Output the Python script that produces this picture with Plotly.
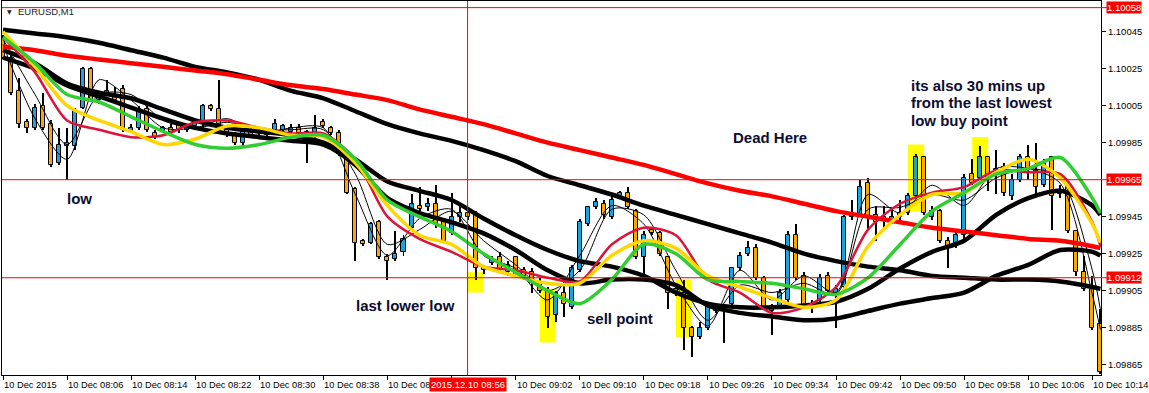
import plotly.graph_objects as go

# ---------------- data ----------------
# M1 bars, index 0 = 07:58, one bar per minute
bar_t = list(range(138))
open_ = [1.10041,1.10031,1.10013,1.09996,1.09993,1.10005,1.09995,1.09974,1.09983,1.09983,
         1.10004,1.10025,1.10008,1.10011,1.10010,1.10014,1.09991,1.09993,1.10003,1.09990,
         1.09991,1.09993,1.09995,1.09992,1.09994,1.09995,1.10005,1.10003,1.09992,1.09989,
         1.09985,1.09991,1.09990,1.09991,1.09992,1.09992,1.09991,1.09993,1.09991,1.09988,
         1.09996,1.09993,1.09990,1.09980,1.09960,1.09932,1.09931,1.09942,1.09923,1.09922,
         1.09926,1.09939,1.09951,1.09950,1.09952,1.09943,1.09936,1.09945,1.09947,1.09946,
         1.09918,1.09920,1.09923,1.09915,1.09923,1.09916,1.09915,1.09909,1.09905,1.09892,
         1.09904,1.09896,1.09916,1.09941,1.09950,1.09952,1.09945,1.09956,1.09958,1.09948,
         1.09923,1.09938,1.09936,1.09923,1.09904,1.09904,1.09885,1.09880,1.09885,1.09896,
         1.09894,1.09898,1.09917,1.09925,1.09928,1.09912,1.09894,1.09896,1.09900,1.09935,
         1.09913,1.09896,1.09900,1.09913,1.09904,1.09907,1.09945,1.09946,1.09963,1.09946,
         1.09945,1.09942,1.09947,1.09947,1.09956,1.09977,1.09945,1.09948,1.09932,1.09929,
         1.09935,1.09968,1.09966,1.09977,1.09969,1.09972,1.09956,1.09965,1.09977,1.09970,
         1.09962,1.09977,1.09957,1.09961,1.09937,1.09915,1.09906,1.09887]
high_ = [1.10043,1.10033,1.10020,1.09998,1.10006,1.10012,1.09997,1.09993,1.09993,1.10004,
         1.10026,1.10026,1.10011,1.10019,1.10015,1.10016,1.09995,1.10005,1.10005,1.09992,
         1.09994,1.09995,1.09996,1.09995,1.09997,1.10006,1.10006,1.10019,1.09993,1.09991,
         1.09993,1.09993,1.09993,1.09992,1.09998,1.09995,1.09995,1.09995,1.09992,1.10000,
         1.09998,1.09994,1.09992,1.09981,1.09961,1.09933,1.09942,1.09943,1.09925,1.09937,
         1.09935,1.09957,1.09961,1.09955,1.09962,1.09944,1.09958,1.09951,1.09950,1.09948,
         1.09919,1.09924,1.09926,1.09921,1.09924,1.09918,1.09917,1.09912,1.09907,1.09905,
         1.09908,1.09919,1.09944,1.09951,1.09955,1.09954,1.09957,1.09959,1.09961,1.09949,
         1.09937,1.09939,1.09937,1.09924,1.09908,1.09911,1.09886,1.09888,1.09897,1.09897,
         1.09897,1.09918,1.09926,1.09932,1.09930,1.09913,1.09898,1.09906,1.09937,1.09941,
         1.09915,1.09900,1.09914,1.09915,1.09908,1.09946,1.09954,1.09965,1.09966,1.09951,
         1.09951,1.09949,1.09954,1.09958,1.09979,1.09978,1.09951,1.09949,1.09934,1.09937,
         1.09968,1.09976,1.09983,1.09978,1.09981,1.09974,1.09968,1.09979,1.09984,1.09985,
         1.09976,1.09978,1.09962,1.09962,1.09938,1.09924,1.09913,1.09895]
low_ = [1.10030,1.10011,1.09993,1.09990,1.09992,1.09992,1.09972,1.09973,1.09965,1.09981,
        1.10003,1.10007,1.10006,1.10010,1.10007,1.09991,1.09990,1.09992,1.09991,1.09987,
        1.09990,1.09990,1.09990,1.09991,1.09993,1.09993,1.10002,1.09990,1.09988,1.09984,
        1.09983,1.09988,1.09989,1.09988,1.09991,1.09991,1.09990,1.09989,1.09974,1.09986,
        1.09993,1.09989,1.09978,1.09957,1.09921,1.09929,1.09930,1.09922,1.09911,1.09921,
        1.09924,1.09938,1.09948,1.09948,1.09939,1.09931,1.09935,1.09942,1.09943,1.09911,
        1.09914,1.09919,1.09915,1.09913,1.09912,1.09911,1.09904,1.09904,1.09885,1.09888,
        1.09891,1.09895,1.09915,1.09940,1.09949,1.09944,1.09944,1.09955,1.09949,1.09922,
        1.09913,1.09935,1.09924,1.09895,1.09902,1.09873,1.09869,1.09879,1.09884,1.09893,
        1.09877,1.09897,1.09916,1.09924,1.09911,1.09895,1.09881,1.09895,1.09898,1.09911,
        1.09895,1.09893,1.09898,1.09904,1.09885,1.09906,1.09943,1.09945,1.09938,1.09932,
        1.09938,1.09941,1.09943,1.09946,1.09955,1.09946,1.09943,1.09931,1.09917,1.09928,
        1.09933,1.09962,1.09965,1.09959,1.09957,1.09956,1.09954,1.09964,1.09965,1.09957,
        1.09961,1.09938,1.09955,1.09936,1.09913,1.09905,1.09884,1.09860]
close_ = [1.10031,1.10012,1.09995,1.09993,1.10004,1.09993,1.09973,1.09984,1.09985,1.10002,
          1.10025,1.10008,1.10010,1.10013,1.10008,1.09992,1.09993,1.10003,1.09992,1.09988,
          1.09993,1.09991,1.09992,1.09994,1.09996,1.10005,1.10003,1.09992,1.09990,1.09985,
          1.09992,1.09989,1.09992,1.09989,1.09995,1.09994,1.09993,1.09990,1.09989,1.09993,
          1.09994,1.09990,1.09979,1.09958,1.09931,1.09930,1.09941,1.09923,1.09921,1.09925,
          1.09933,1.09952,1.09949,1.09952,1.09941,1.09932,1.09945,1.09947,1.09945,1.09917,
          1.09916,1.09922,1.09916,1.09919,1.09913,1.09913,1.09909,1.09905,1.09891,1.09904,
          1.09898,1.09917,1.09942,1.09950,1.09953,1.09946,1.09954,1.09958,1.09950,1.09923,
          1.09935,1.09936,1.09925,1.09904,1.09906,1.09885,1.09880,1.09885,1.09896,1.09894,
          1.09896,1.09917,1.09924,1.09928,1.09912,1.09896,1.09896,1.09904,1.09935,1.09912,
          1.09896,1.09898,1.09912,1.09905,1.09906,1.09945,1.09947,1.09961,1.09945,1.09942,
          1.09943,1.09945,1.09945,1.09956,1.09977,1.09947,1.09948,1.09932,1.09929,1.09935,
          1.09966,1.09963,1.09977,1.09966,1.09971,1.09958,1.09965,1.09977,1.09971,1.09961,
          1.09974,1.09956,1.09959,1.09937,1.09915,1.09906,1.09885,1.09861]

# indicator lines, sampled every 4 bars (+ last bar)
ma_t = list(range(0, 137, 4)) + [137]
ma_red = [1.10037,1.10035,1.10032,1.10030,1.10028,1.10026,1.10024,1.10022,1.10019,1.10016,
          1.10014,1.10011,1.10008,1.10003,1.09999,1.09995,1.09990,1.09985,1.09981,1.09977,
          1.09973,1.09968,1.09963,1.09959,1.09956,1.09952,1.09948,1.09945,1.09942,1.09939,
          1.09937,1.09935,1.09933,1.09932,1.09929,1.09928]
ma_black1 = [1.10046,1.10044,1.10042,1.10039,1.10035,1.10031,1.10026,1.10023,1.10019,1.10013,
             1.10009,1.10002,1.09995,1.09990,1.09986,1.09981,1.09975,1.09967,1.09962,1.09957,
             1.09951,1.09946,1.09941,1.09936,1.09931,1.09925,1.09921,1.09918,1.09916,1.09913,
             1.09912,1.09911,1.09911,1.09910,1.09907,1.09906]
ma_black2 = [1.10035,1.10028,1.10017,1.10012,1.10009,1.10003,1.09997,1.09993,1.09991,1.09989,
             1.09985,1.09976,1.09964,1.09959,1.09954,1.09944,1.09935,1.09927,1.09921,1.09918,
             1.09913,1.09904,1.09898,1.09896,1.09896,1.09897,1.09899,1.09906,1.09917,1.09926,
             1.09932,1.09946,1.09955,1.09959,1.09951,1.09946]
ma_black3 = [1.10031,1.10025,1.10016,1.10010,1.10004,1.09998,1.09993,1.09990,1.09988,1.09986,
             1.09984,1.09973,1.09955,1.09947,1.09942,1.09936,1.09927,1.09916,1.09909,1.09911,
             1.09911,1.09908,1.09897,1.09893,1.09891,1.09889,1.09890,1.09894,1.09898,1.09901,
             1.09904,1.09913,1.09919,1.09927,1.09926,1.09924]
ma_green = [1.10042,1.10028,1.10011,1.10007,1.09999,1.09991,1.09984,1.09982,1.09984,1.09988,
            1.09989,1.09976,1.09954,1.09945,1.09937,1.09925,1.09915,1.09905,1.09898,1.09911,
            1.09930,1.09925,1.09911,1.09910,1.09909,1.09906,1.09903,1.09912,1.09930,1.09948,
            1.09958,1.09968,1.09971,1.09977,1.09955,1.09947]
ma_yellow = [1.10045,1.10026,1.10005,1.09997,1.09991,1.09984,1.09987,1.09994,1.09993,1.09989,
             1.09988,1.09974,1.09951,1.09935,1.09930,1.09918,1.09913,1.09909,1.09909,1.09924,
             1.09932,1.09928,1.09913,1.09907,1.09901,1.09896,1.09900,1.09929,1.09946,1.09957,
             1.09958,1.09969,1.09976,1.09966,1.09941,1.09931]
ma_crimson = [1.10042,1.10023,1.09997,1.09992,1.09988,1.09989,1.09996,1.09997,1.09993,1.09990,
              1.09990,1.09976,1.09945,1.09933,1.09926,1.09918,1.09916,1.09912,1.09910,1.09930,
              1.09939,1.09935,1.09911,1.09904,1.09893,1.09896,1.09907,1.09938,1.09952,1.09958,
              1.09961,1.09970,1.09969,1.09968,1.09942,1.09929]
ma_thin1 = [1.10038,1.09998,1.09976,1.10019,1.10008,1.09993,1.09993,1.09998,1.09990,1.09993,
            1.09993,1.09957,1.09924,1.09944,1.09949,1.09924,1.09917,1.09900,1.09924,1.09951,
            1.09941,1.09908,1.09886,1.09916,1.09900,1.09913,1.09904,1.09957,1.09947,1.09962,
            1.09951,1.09971,1.09971,1.09963,1.09903,1.09884]
ma_thin2 = [1.10041,1.10011,1.09984,1.10011,1.10011,1.09997,1.09993,1.09996,1.09992,1.09992,
            1.09992,1.09968,1.09930,1.09938,1.09948,1.09932,1.09919,1.09905,1.09916,1.09949,
            1.09946,1.09916,1.09889,1.09908,1.09904,1.09909,1.09903,1.09949,1.09950,1.09957,
            1.09954,1.09966,1.09971,1.09966,1.09916,1.09895]

# horizontal price lines and cursor
hline_prices = [1.10058, 1.09965, 1.09912]
cursor_t = 58
cursor_label = "2015.12.10 08:56"

# highlighted bars (center bar, top price, bottom price)
hl_center = [59, 68, 85, 114, 122]
hl_top = [1.09915, 1.09906, 1.09911, 1.09984, 1.09988]
hl_bottom = [1.09904, 1.09877, 1.09880, 1.09948, 1.09966]

# notes
note_text = ["low", "last lower low", "sell point", "Dead Here",
             "its also 30 mins up", "from the last lowest", "low buy point"]
note_t = [9.6, 50.3, 77.0, 95.7, 113.1, 113.1, 113.1]
note_p = [1.09955, 1.09897, 1.09890, 1.09988, 1.10016, 1.100065, 1.09997]
note_anchor = ["center", "center", "center", "center", "left", "left", "left"]

# axes (labels under the cursor box are hidden, as in the terminal)
x_tickvals = list(range(0, 137, 8))
x_ticktext = ["10 Dec 2015", "10 Dec 08:06", "10 Dec 08:14", "10 Dec 08:22", "10 Dec 08:30",
              "10 Dec 08:38", "10 Dec 08", "", "10 Dec 09:02", "10 Dec 09:10",
              "10 Dec 09:18", "10 Dec 09:26", "10 Dec 09:34", "10 Dec 09:42", "10 Dec 09:50",
              "10 Dec 09:58", "10 Dec 10:06", "10 Dec 10:14"]
y_tickvals = [1.09865, 1.09885, 1.09905, 1.09925, 1.09945, 1.09985, 1.10005, 1.10025, 1.10045]

# ---------------- figure ----------------
UP = "#1aa3e0"
DOWN = "#ffa500"
FONT = "Liberation Sans, Arial, sans-serif"

body_base = [min(o, c) for o, c in zip(open_, close_)]
body_h = [abs(c - o) for o, c in zip(open_, close_)]
body_col = [UP if c > o else DOWN for o, c in zip(open_, close_)]
wick_h = [h - l for h, l in zip(high_, low_)]

fig = go.Figure()
fig.add_trace(go.Bar(x=bar_t, y=wick_h, base=low_, width=0.125,
                     marker=dict(color="black", line=dict(width=0)), hoverinfo="skip"))
fig.add_trace(go.Bar(x=bar_t, y=body_h, base=body_base, width=0.5,
                     marker=dict(color=body_col, line=dict(color="black", width=1)), hoverinfo="skip"))

def line(y, color, width):
    fig.add_trace(go.Scatter(x=ma_t, y=y, mode="lines", hoverinfo="skip",
                             line=dict(color=color, width=width, shape="spline", smoothing=0.8)))

line(ma_thin2, "black", 1)
line(ma_thin1, "black", 1)
line(ma_black3, "black", 4.5)
line(ma_black2, "black", 4.5)
line(ma_black1, "black", 4.5)
line(ma_red, "#ff0000", 4.5)
line(ma_crimson, "#dc143c", 2.5)
line(ma_yellow, "#ffd700", 3.5)
line(ma_green, "#32cd32", 3.5)

shapes = []
for c, top, bot in zip(hl_center, hl_top, hl_bottom):
    shapes.append(dict(type="rect", xref="x", yref="y", x0=c - 1, x1=c + 1, y0=bot, y1=top,
                       fillcolor="#ffff00", line=dict(width=0), layer="below"))
for p in hline_prices:
    shapes.append(dict(type="line", xref="paper", yref="y", x0=0, x1=1.006, y0=p, y1=p,
                       line=dict(color="#ff0000", width=1), layer="above"))
shapes.append(dict(type="line", xref="x", yref="paper", x0=cursor_t, x1=cursor_t, y0=0, y1=1,
                   line=dict(color="#ff0000", width=1), layer="above"))

ann = []
for txt, t, p, a in zip(note_text, note_t, note_p, note_anchor):
    ann.append(dict(x=t, y=p, xref="x", yref="y", text="<b>" + txt + "</b>", showarrow=False,
                    xanchor=a, yanchor="middle", font=dict(family=FONT, size=15, color="#0d0d30")))
for tv, tt in zip(x_tickvals, x_ticktext):
    if not tt:
        continue
    ann.append(dict(x=tv, y=0, xref="x", yref="paper", text=tt, showarrow=False,
                    xanchor="left", yanchor="middle", yshift=-9.5, xshift=-1,
                    font=dict(family=FONT, size=9.3, color="black")))
ann.append(dict(x=cursor_t, y=0, xref="x", yref="paper", text=cursor_label, showarrow=False,
                xanchor="center", yanchor="middle", yshift=-9.5, bgcolor="#ff0000", borderpad=1,
                font=dict(family=FONT, size=9.5, color="white")))
for p in hline_prices:
    ann.append(dict(x=1, y=p, xref="paper", yref="y", text="%.5f" % p, showarrow=False,
                    xanchor="left", yanchor="middle", xshift=5, bgcolor="#ff0000", borderpad=0,
                    font=dict(family=FONT, size=9.5, color="white")))
ann.append(dict(x=0, y=1, xref="paper", yref="paper", text="▼", showarrow=False,
                xanchor="left", yanchor="middle", xshift=3, yshift=-10,
                font=dict(family="DejaVu Sans", size=6, color="#222")))
ann.append(dict(x=0, y=1, xref="paper", yref="paper", text="EURUSD,M1", showarrow=False,
                xanchor="left", yanchor="middle", xshift=14, yshift=-10,
                font=dict(family=FONT, size=9.5, color="#222")))

fig.update_layout(
    width=1149, height=393,
    margin=dict(l=2, r=48, t=1, b=18),
    paper_bgcolor="white", plot_bgcolor="white",
    showlegend=False, barmode="overlay", bargap=0,
    shapes=shapes, annotations=ann,
    xaxis=dict(range=[-0.125, 137.08], tickvals=x_tickvals, showticklabels=False,
               ticks="outside", ticklen=4, tickcolor="black", showgrid=False, zeroline=False,
               showline=True, linecolor="black", linewidth=1, mirror=True, fixedrange=True),
    yaxis=dict(range=[1.0985943, 1.1006159], side="right", tickvals=y_tickvals,
               ticktext=["%.5f" % v for v in y_tickvals], ticks="outside", ticklen=4,
               tickcolor="black", tickfont=dict(family=FONT, size=9.5, color="black"),
               showgrid=False, zeroline=False, showline=True, linecolor="black",
               linewidth=1, mirror=True, fixedrange=True),
)

fig.write_html("out.html", config={"displayModeBar": False})
